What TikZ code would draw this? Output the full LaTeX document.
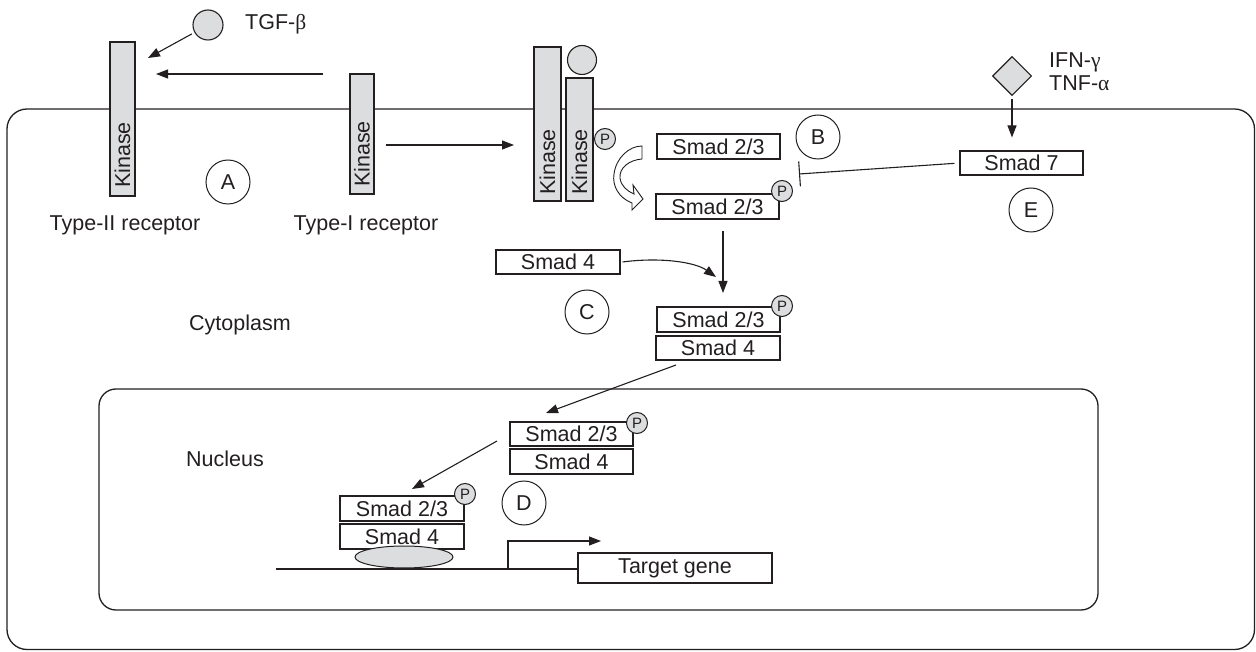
\documentclass[tikz,border=0pt]{standalone}
\usepackage{fontspec}
\setmainfont{Liberation Sans}
\newfontfamily\grk{Liberation Serif}
\usetikzlibrary{arrows.meta,shapes.geometric}
\definecolor{ink}{HTML}{231F20}
\definecolor{recgray}{HTML}{DCDDDF}
\tikzset{
  base/.style={font=\fontsize{21.5}{24}\selectfont, text=ink},
  lbl/.style={base, inner sep=0},
  box/.style={base, draw=ink, line width=1.1pt, fill=white, minimum width=123, minimum height=25, inner sep=0},
  letter/.style={base, draw=ink, line width=1pt, circle, minimum size=44, inner sep=0},
  pmark/.style={draw=ink, line width=1pt, circle, fill=recgray, minimum size=21, inner sep=0, font=\fontsize{15}{15}\selectfont, text=ink},
  rec/.style={draw=ink, line width=1.1pt, fill=recgray, inner sep=0},
  kin/.style={base, rotate=90, inner sep=0},
  lig/.style={draw=ink, line width=1.1pt, fill=recgray, circle, inner sep=0},
  arr/.style={draw=ink, line width=1.1pt, -{Triangle[length=12pt,width=9pt]}},
  inh/.style={draw=ink, line width=1.1pt, -{Bar[width=25pt]}},
  memb/.style={draw=ink, line width=1.3pt},
}
\begin{document}
\begin{tikzpicture}[x=1pt,y=-1pt]
\useasboundingbox (0,0) rectangle (1256,652);
% membranes
\draw[memb, rounded corners=20pt] (7,109) rectangle (1254.5,649.5);
\draw[memb, rounded corners=17pt] (99,389) rectangle (1098,610);
% receptors
\node[rec, minimum width=25, minimum height=154] (r2) at (122.5,119) {};
\node[kin] (r2k) at (122.5,155) {Kinase};
\node[rec, minimum width=24, minimum height=120] (r1) at (362,134) {};
\node[kin] (r1k) at (362,154) {Kinase};
\node[lbl] (t2) at (125,225) {Type-II receptor};
\node[lbl] (t1) at (366,225) {Type-I receptor};
\node[letter] (A) at (228,182) {A};
% TGF-beta
\node[lig, minimum size=30] (tgf) at (208,25) {};
\node[lbl, anchor=west] (tgfl) at (245,24) {TGF-{\grk β}};
\coordinate (tgfend) at (148,58);
\draw[arr, shorten <=3pt] (tgf) -- (tgfend);
\coordinate (hs) at (323,74);
\coordinate (he) at (156,74);
\draw[arr] (hs) -- (he);
% complex
\node[rec, minimum width=27, minimum height=154] (k1) at (547.5,124) {};
\node[kin] (k1k) at (547.5,162) {Kinase};
\node[rec, minimum width=27, minimum height=123] (k2) at (579.5,139.5) {};
\node[kin] (k2k) at (579.5,162) {Kinase};
\node[lig, minimum size=29] (lig2) at (582,60) {};
\node[pmark] (p0) at (605,139) {P};
\coordinate (as) at (386,145);
\coordinate (ae) at (514,145);
\draw[arr] (as) -- (ae);
% hollow curved arrow
\draw[draw=ink, line width=0.9pt, fill=white]
  (642,146) -- (642,159)
  .. controls (629,160) and (619,168) .. (620,178)
  .. controls (621,186) and (627,191) .. (634,194)
  -- (633,185) -- (643,199) -- (632,210) -- (632,203)
  .. controls (619,198) and (612,186) .. (614,174)
  .. controls (616,158) and (629,146) .. (642,146) -- cycle;
% Smad 2/3
\node[box] (s23a) at (718.5,146.5) {Smad 2/3};
\node[box] (s23b) at (717.5,206.5) {Smad 2/3};
\node[pmark] (p1) at (782,191) {P};
\node[letter] (B) at (818,137) {B};
% IFN / TNF
\node[diamond, draw=ink, line width=1.1pt, fill=recgray, minimum width=39, minimum height=39, inner sep=0] (dia) at (1012,76) {};
\node[lbl, anchor=west] (ifn) at (1049,62) {IFN-{\grk γ}};
\node[lbl, anchor=west] (tnf) at (1049,83) {TNF-{\grk α}};
\node[box, minimum height=24] (s7) at (1021.5,163) {Smad 7};
\draw[arr] ([yshift=-3]dia.south) -- ([yshift=13]s7.north -| dia.south);
\coordinate (bar) at (799,174);
\draw[inh, shorten <=5pt] (s7.west) -- (bar);
\node[letter] (E) at (1031,210) {E};
% Smad 4 joining
\node[box, minimum width=124, minimum height=24] (s4) at (558,262) {Smad 4};
\coordinate (vs) at (723,231);
\coordinate (ve) at (723,293);
\draw[arr] (vs) -- (ve);
\coordinate (ce) at (716,277);
\draw[arr] ([xshift=2]s4.east) .. controls (660,257) and (695,262) .. (ce);
\node[letter] (C) at (587,312) {C};
\node[lbl] (cyto) at (240,325) {Cytoplasm};
% complex 1
\node[box] (c1a) at (718.5,319.5) {Smad 2/3};
\node[box, minimum width=124, minimum height=24] (c1b) at (718,348) {Smad 4};
\node[pmark] (p2) at (782,306) {P};
\coordinate (m1) at (676,365);
\coordinate (m2) at (546,413);
\draw[arr] (m1) -- (m2);
% nucleus
\node[lbl] (nuc) at (225,459) {Nucleus};
\node[box, minimum height=24] (c2a) at (571.5,434) {Smad 2/3};
\node[box] (c2b) at (571.5,461.5) {Smad 4};
\node[pmark] (p3) at (637,423) {P};
\coordinate (n1) at (497,441);
\coordinate (n2) at (412,489);
\draw[arr] (n1) -- (n2);
\node[box, minimum width=124] (c3a) at (402,508.5) {Smad 2/3};
\node[box, minimum width=124] (c3b) at (402,536.5) {Smad 4};
\node[pmark] (p4) at (465,494) {P};
\node[letter] (D) at (524,503) {D};
\node[ellipse, draw=ink, line width=1pt, fill=recgray, minimum width=98, minimum height=22, inner sep=0] (tf) at (404,557) {};
\node[box, minimum width=194, minimum height=30] (tg) at (675,568) {Target gene};
\coordinate (dnaS) at (276,569);
\draw[memb, line width=1.1pt] (dnaS) -- (dnaS -| tg.west);
\coordinate (prom) at (508,569);
\coordinate (promEnd) at (601,541);
\draw[arr] (prom) |- (promEnd);
\end{tikzpicture}
\end{document}
